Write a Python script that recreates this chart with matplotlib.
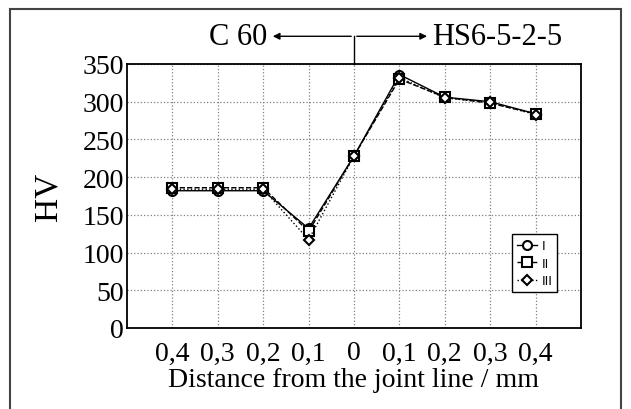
import matplotlib.pyplot as plt
from matplotlib.patches import Rectangle

plt.rcParams['font.family'] = ['Liberation Serif', 'DejaVu Serif']

positions = [0, 1, 2, 3, 4, 5, 6, 7, 8]
tick_labels = ["0,4", "0,3", "0,2", "0,1", "0", "0,1", "0,2", "0,3", "0,4"]
hv_1 = [182, 182, 182, 132, 228, 336, 306, 300, 284]
hv_2 = [186, 186, 186, 128, 228, 330, 306, 298, 284]
hv_3 = [184, 184, 184, 117, 228, 332, 305, 299, 283]
series_names = ["I", "II", "III"]

fig = plt.figure(figsize=(6.31, 4.10), dpi=100)
ax = fig.add_axes([127 / 631, 81 / 410, 454 / 631, 264 / 410])

styles = [("-", "o", 6.5), ("--", "s", 6.5), (":", "D", 5.5)]
for vals, name, (ls, mk, ms) in zip([hv_1, hv_2, hv_3], series_names, styles):
    ax.plot(positions, vals, linestyle=ls, marker=mk, markersize=ms,
            color="black", markerfacecolor="white", markeredgewidth=1.5,
            linewidth=1.0, label=name)

ax.set_xlim(-1, 9)
ax.set_ylim(0, 350)
ax.set_xticks(positions)
ax.set_xticklabels(tick_labels)
ax.set_yticks(range(0, 351, 50))
ax.tick_params(length=0, labelsize=20)
ax.tick_params(axis="x", pad=9)
ax.tick_params(axis="y", pad=2)
ax.grid(True, linestyle=":", color="gray", linewidth=0.9)
for s in ax.spines.values():
    s.set_linewidth(1.3)
ax.set_xlabel("Distance from the joint line / mm", fontsize=20, labelpad=1)
ax.set_ylabel("HV", fontsize=24, labelpad=14)

leg = ax.legend(loc="lower right", bbox_to_anchor=(0.962, 0.113),
                handlelength=1.6, handletextpad=0.4, borderpad=0.4,
                labelspacing=0.35, fancybox=False, framealpha=1,
                prop={'family': 'DejaVu Sans', 'size': 9})
leg.get_frame().set_edgecolor("black")
leg.get_frame().set_linewidth(1.0)

# material annotation above the plot
ax.annotate("", xy=(2.15, 1.105), xytext=(4, 1.105), xycoords=("data", "axes fraction"),
            arrowprops=dict(arrowstyle="-|>", color="black", lw=1.0, mutation_scale=10))
ax.annotate("", xy=(5.67, 1.105), xytext=(4, 1.105), xycoords=("data", "axes fraction"),
            arrowprops=dict(arrowstyle="-|>", color="black", lw=1.0, mutation_scale=10))
ax.plot([4, 4], [1.0, 1.105], color="black", lw=1.0, transform=ax.get_xaxis_transform(),
        clip_on=False)
ax.text(2.1, 1.105, "C 60", fontsize=22, ha="right", va="center",
        transform=ax.get_xaxis_transform())
ax.text(5.72, 1.105, "HS6-5-2-5", fontsize=22, ha="left", va="center",
        transform=ax.get_xaxis_transform())

fig.patches.append(Rectangle((10 / 631, -0.1), 611 / 631, 1.1 - 10 / 410,
                             transform=fig.transFigure, fill=False,
                             edgecolor="#444444", linewidth=1.5))

fig.savefig("out.png", dpi=100)
